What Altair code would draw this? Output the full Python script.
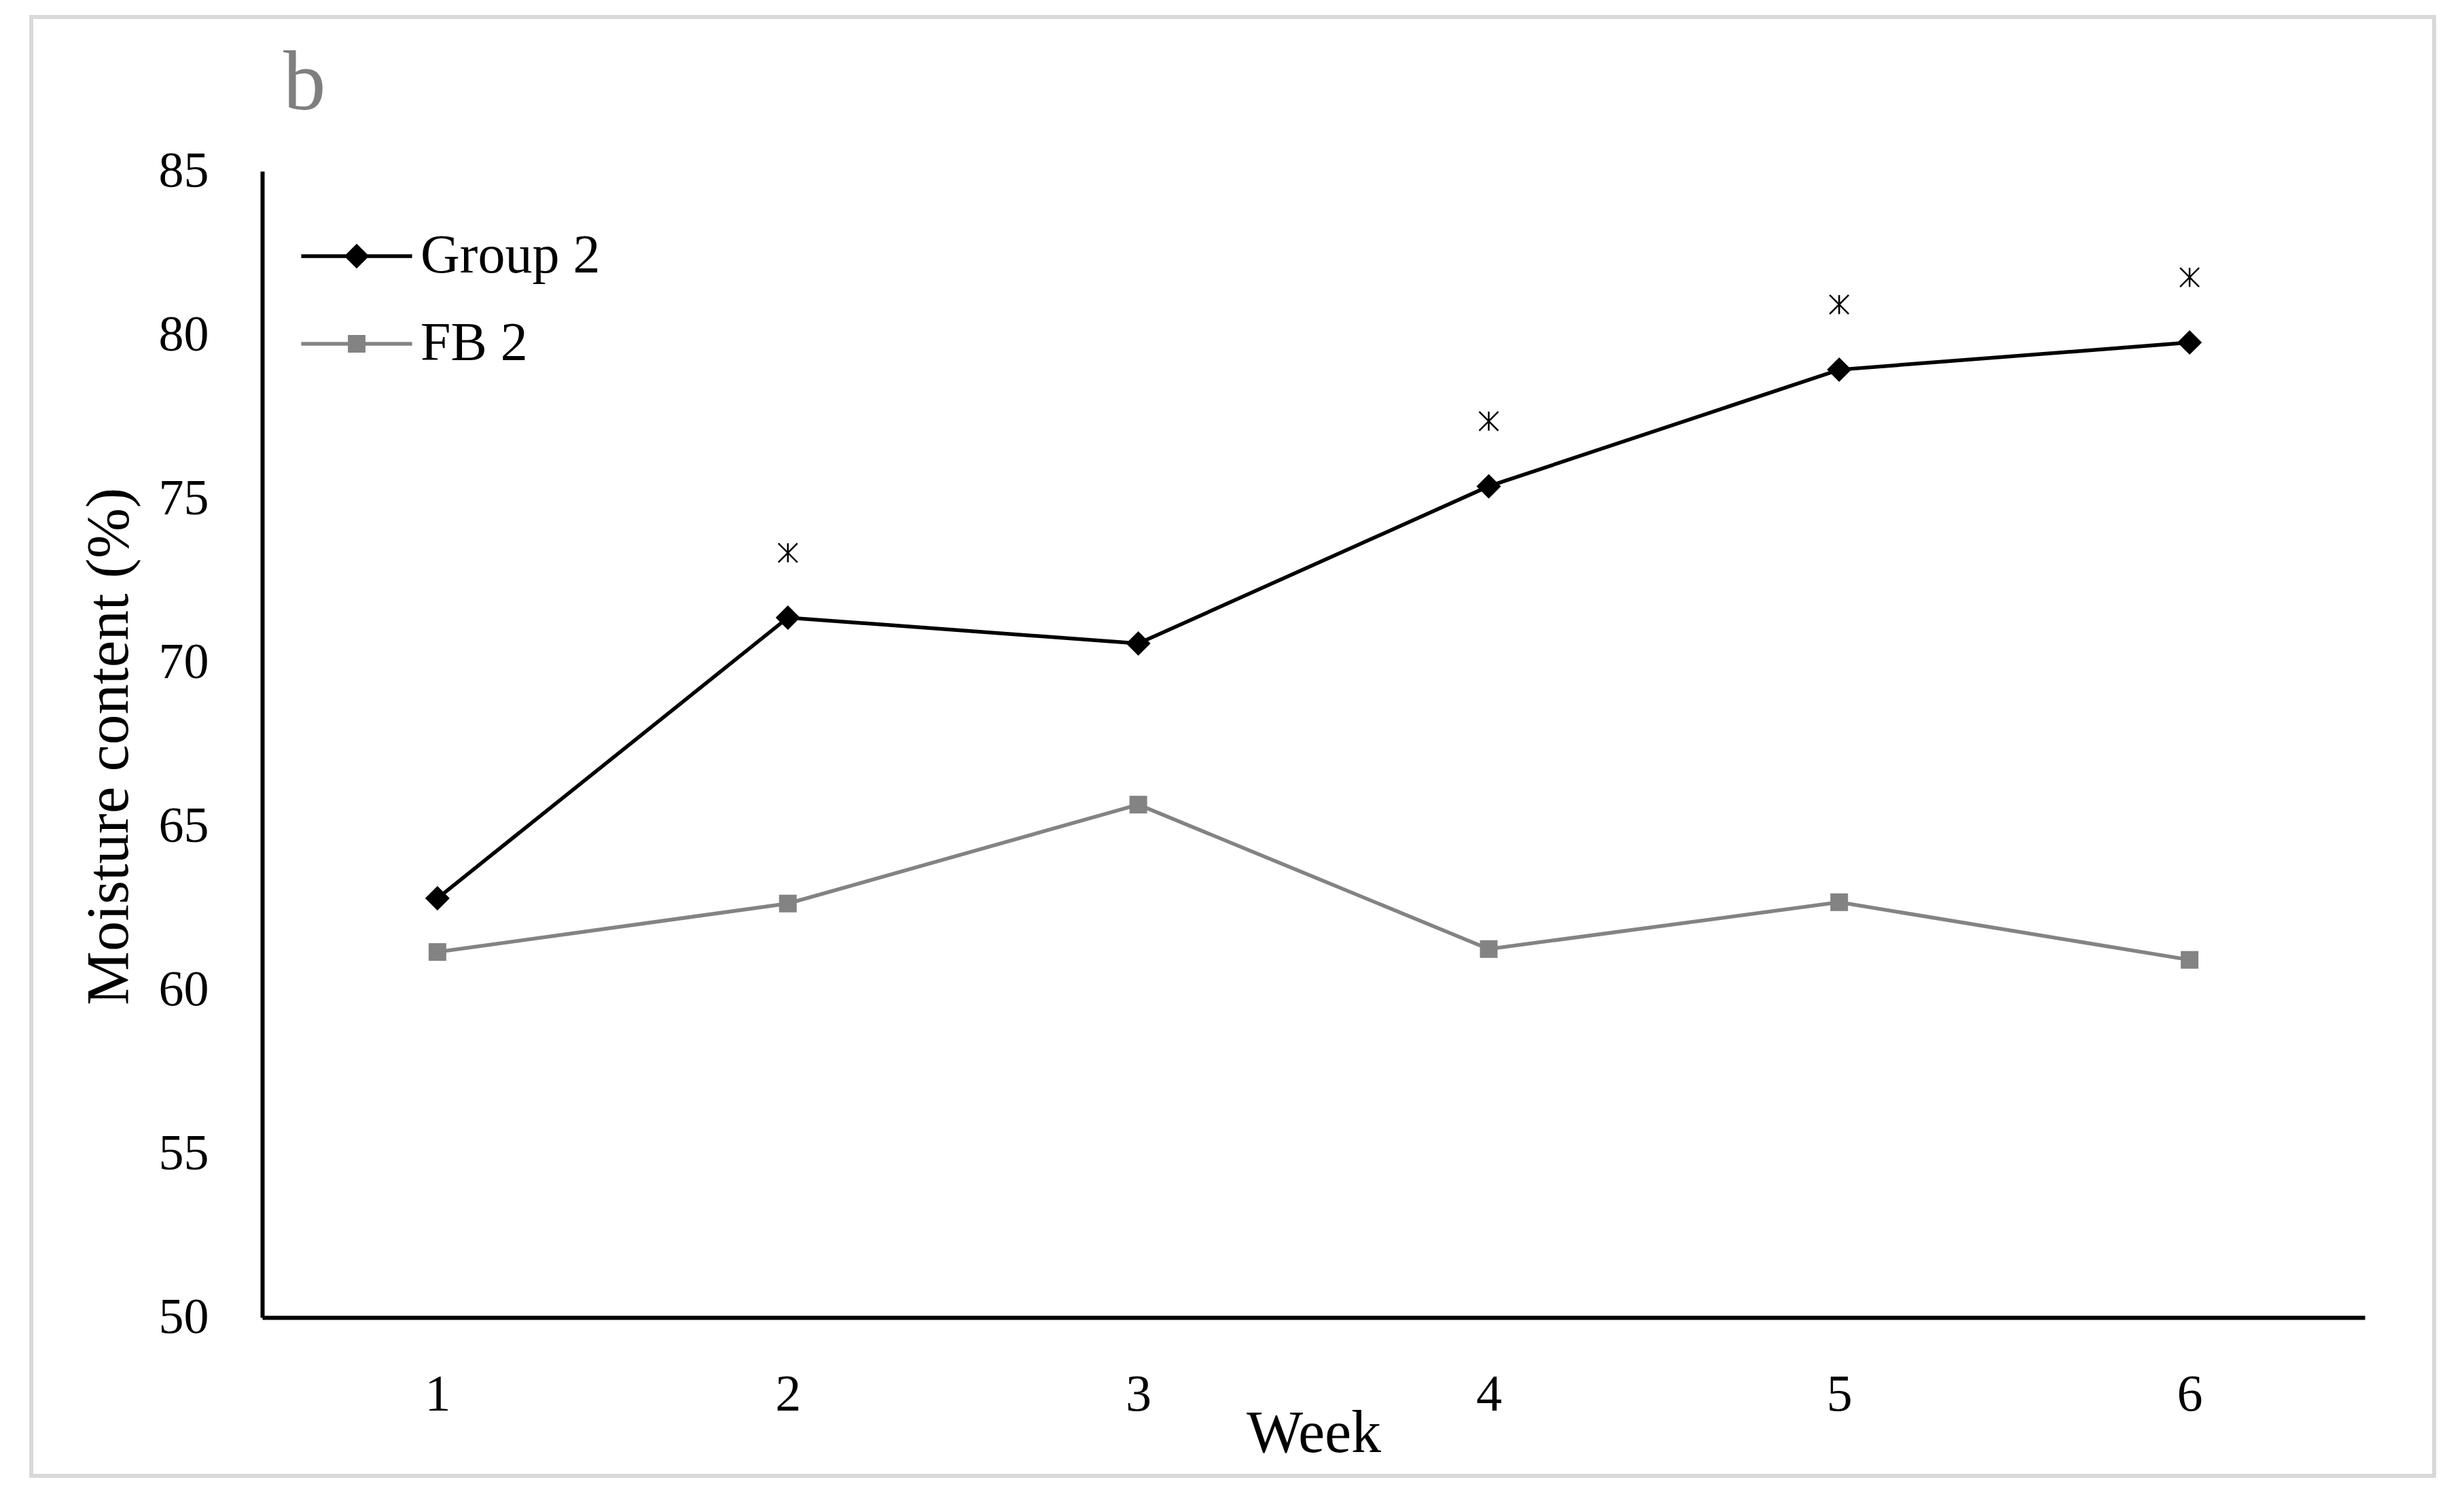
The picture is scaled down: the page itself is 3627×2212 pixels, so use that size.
import altair as alt
import pandas as pd

# ---- data ----
weeks = [1, 2, 3, 4, 5, 6]
group2 = [62.8, 71.37, 70.58, 75.38, 78.94, 79.77]
fb2 = [61.16, 62.64, 65.66, 61.25, 62.68, 60.92]
star_weeks = [2, 4, 5, 6]
star_values = [73.35, 77.37, 80.93, 81.76]
series_names = ["Group 2", "FB 2"]
series_colors = ["#000000", "#838383"]
y_ticks = [50, 55, 60, 65, 70, 75, 80, 85]
panel_label = ["b"]

FONT = "Liberation Serif"

df = pd.DataFrame({
    "week": weeks * 2,
    "series": [series_names[0]] * len(weeks) + [series_names[1]] * len(weeks),
    "value": group2 + fb2,
})
stars = pd.DataFrame({"week": star_weeks, "value": star_values})
label_df = pd.DataFrame({"panel": panel_label})

x_enc = alt.X(
    "week:O",
    scale=alt.Scale(type="point", padding=0.5),
    axis=alt.Axis(
        title="Week", labelAngle=0, ticks=False, tickSize=0, grid=False,
        domainColor="black", domainWidth=6,
        labelFont=FONT, labelFontSize=76, labelColor="black",
        labelBaseline="alphabetic", labelPadding=136,
        titleFont=FONT, titleFontSize=88, titleFontWeight="normal", titleColor="black",
        titleBaseline="alphabetic", titleY=197,
    ),
)
y_enc = alt.Y(
    "value:Q",
    scale=alt.Scale(domain=[50, 85], nice=False, zero=False),
    axis=alt.Axis(
        values=y_ticks, title="Moisture content (%)", ticks=False, tickSize=0, grid=False,
        domainColor="black", domainWidth=6,
        labelFont=FONT, labelFontSize=74, labelColor="black", labelPadding=79,
        titleFont=FONT, titleFontSize=89, titleFontWeight="normal", titleColor="black",
        titleBaseline="alphabetic", titleX=-199, titleY=846, titleAlign="center",
    ),
)

base = alt.Chart(df)

# legend symbols: a line segment with the series marker in the middle
diamond_leg = "M-4.8,0L4.8,0M0,-0.85L0.85,0L0,0.85L-0.85,0Z"
square_leg = "M-4.8,0L4.8,0M-0.6,-0.6L0.6,-0.6L0.6,0.6L-0.6,0.6Z"


def entry_legend(symbol, stroke_color, legend_y):
    return alt.Legend(
        title=None, orient="none", legendX=99, legendY=legend_y,
        labelFont=FONT, labelFontSize=80, labelColor="black", labelOffset=54,
        labelLimit=1000, symbolSize=1156, symbolStrokeWidth=5.5,
        symbolType=symbol, symbolStrokeColor=stroke_color, symbolOpacity=1,
    )


lines = base.mark_line(strokeWidth=5.5).encode(
    x=x_enc, y=y_enc,
    color=alt.Color("series:N", scale=alt.Scale(domain=series_names, range=series_colors), legend=None),
)

pts_g = base.transform_filter(alt.datum.series == series_names[0]).mark_point(
    shape="diamond", size=1300, filled=True, opacity=1
).encode(
    x="week:O", y="value:Q",
    color=alt.Color("series:N", scale=alt.Scale(domain=series_names[:1], range=series_colors[:1]),
                    legend=entry_legend(diamond_leg, series_colors[0], 85)),
)

pts_f = base.transform_filter(alt.datum.series == series_names[1]).mark_point(
    shape="square", size=676, filled=True, opacity=1
).encode(
    x="week:O", y="value:Q",
    color=alt.Color("series:N", scale=alt.Scale(domain=series_names[1:], range=series_colors[1:]),
                    legend=entry_legend(square_leg, series_colors[1], 214)),
)

star_path = "M-1,-1L1,1M-1,1L1,-1M0,-1L0,1"
star_layer = alt.Chart(stars).mark_point(
    shape=star_path, size=784, filled=False, stroke="black", strokeWidth=2.5, opacity=1
).encode(x="week:O", y="value:Q")

panel_text = alt.Chart(label_df).mark_text(
    font=FONT, fontSize=125, color="#7f7f7f", align="left", baseline="alphabetic"
).encode(text="panel:N", x=alt.value(31), y=alt.value(-91))

border = alt.Chart(label_df).mark_rect(
    fillOpacity=0, stroke="#d9d9d9", strokeWidth=6
).encode(x=alt.value(-340), x2=alt.value(3197), y=alt.value(-227), y2=alt.value(1920))

chart = alt.layer(border, lines, pts_f, pts_g, star_layer, panel_text).resolve_scale(
    color="independent"
).properties(
    width=3095, height=1687,
    autosize=alt.AutoSizeParams(type="none"),
    padding={"left": 378, "top": 244, "right": 138, "bottom": 250},
    background="white",
).configure_view(strokeWidth=0)

chart.save("out.html", embed_options={"renderer": "svg", "actions": False})
